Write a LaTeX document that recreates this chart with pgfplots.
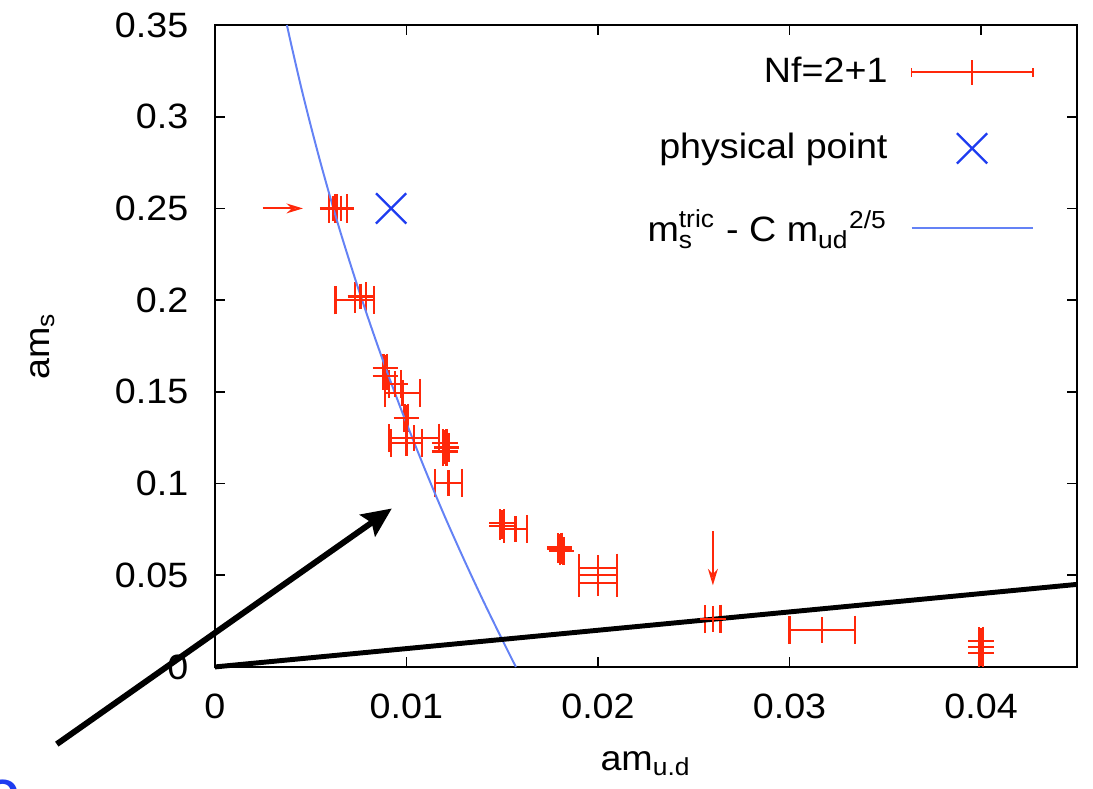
\documentclass[border=0pt]{standalone}
\usepackage{fontspec}
\setmainfont{Liberation Sans}[FakeStretch=1.07]
\usepackage{pgfplots}
\usepackage{pgfplotstable}
\pgfplotsset{compat=1.18}
\usetikzlibrary{arrows.meta}
\definecolor{ptred}{RGB}{255,40,10}
\definecolor{ptblue}{RGB}{30,60,240}
\definecolor{curveblue}{RGB}{100,130,245}

\pgfplotstableread{
x y ex
0.00615 0.25 0.0002
0.0066 0.25 0.0003
0.0073 0.2 0.001
0.0076 0.202 0.0003
0.0089 0.163 0.0001
0.0089 0.1587 0.0001
0.0094 0.1543 0.0003
0.0098 0.1494 0.0009
0.0100 0.1358 0.0001
0.0104 0.1249 0.0013
0.0100 0.1221 0.0008
0.0120 0.1221 0.0001
0.0121 0.1196 0.0001
0.0120 0.1174 0.0001
0.0122 0.1003 0.0007
0.0150 0.0785 0.0001
0.0150 0.0770 0.0001
0.0157 0.0752 0.0006
0.0180 0.0655 0.0001
0.0180 0.0643 0.0001
0.0181 0.0632 0.0001
0.0200 0.0540 0.001
0.0200 0.0502 0.001
0.0200 0.0458 0.001
0.0260 0.0262 0.0004
0.0317 0.0202 0.0017
0.0400 0.0142 0.0001
0.0400 0.0109 0.0001
0.0400 0.0076 0.0001
}\nfdata

\begin{document}
\fontsize{10.7}{13}\selectfont
\begin{tikzpicture}
\useasboundingbox (-65.3pt,-36.8pt) rectangle (266.9pt,202.7pt);
\begin{axis}[
  at={(0pt,0pt)}, anchor=south west,
  width=262pt, height=195.1pt, scale only axis,
  xmin=0, xmax=0.045, ymin=0, ymax=0.35,
  scaled x ticks=false, scaled y ticks=false,
  xtick={0,0.01,0.02,0.03,0.04},
  xticklabels={0,0.01,0.02,0.03,0.04},
  ytick={0,0.05,0.1,0.15,0.2,0.25,0.3,0.35},
  yticklabels={0,0.05,0.1,0.15,0.2,0.25,0.3,0.35},
  tick align=inside, major tick length=3pt,
  tick style={black, line width=0.5pt},
  axis line style={line width=0.6pt},
  xticklabel style={yshift=-4.3pt},
  yticklabel style={xshift=-4.3pt},
  clip=false,
  xlabel={am\textsubscript{u.d}},
  ylabel={am\textsubscript{s}},
  every axis x label/.style={at={(axis description cs:0.5,-0.151)}, anchor=center},
  every axis y label/.style={at={(axis description cs:-0.2000,0.5)}, anchor=center, rotate=90},
  legend plot pos=right,
  legend cell align=right,
  legend style={draw=none, fill=none, at={(axis description cs:0.962,0.972)}, anchor=north east,
    row sep=9.8pt, font=\fontsize{10.7}{13}\selectfont,
    /tikz/every odd column/.append style={column sep=5pt}},
]
\addplot[ptred, only marks, mark=+, mark size=3.9pt, line width=0.7pt,
  error bars/.cd, x dir=both, x explicit,
  error bar style={ptred, line width=0.7pt},
  error mark options={ptred, mark size=4.3pt, line width=0.7pt, rotate=90},
  /pgfplots/legend image code/.code={
    \draw[ptred, line width=0.55pt] (0pt,0pt) -- (36.8pt,0pt);
    \draw[ptred, line width=0.55pt] (0pt,-1.4pt) -- (0pt,1.4pt);
    \draw[ptred, line width=0.55pt] (36.8pt,-1.4pt) -- (36.8pt,1.4pt);
    \draw[ptred, line width=0.55pt] (18.4pt,-3.8pt) -- (18.4pt,3.8pt) (14.6pt,0pt) -- (22.2pt,0pt);
  }]
  table[x=x, y=y, x error=ex] {\nfdata};
\addlegendentry{Nf=2+1}

\addplot[ptblue, only marks, mark=x, mark size=6.5pt, line width=0.7pt,
  legend image code/.code={
    \draw[ptblue, line width=0.7pt] (13.8pt,-4.6pt) -- (23pt,4.6pt) (13.8pt,4.6pt) -- (23pt,-4.6pt);
  }]
  coordinates {(0.0092,0.25)};
\addlegendentry{physical point}

\addplot[curveblue, line width=0.6pt, smooth,
  legend image code/.code={
    \draw[curveblue, line width=0.6pt] (0pt,0pt) -- (36.8pt,0pt);
  }]
  coordinates {(0.003762,0.35) (0.004,0.3388) (0.0045,0.3163) (0.005,0.2954) (0.0055,0.2756)
  (0.006,0.2569) (0.0065,0.2390) (0.007,0.2222) (0.0075,0.2059) (0.008,0.1903) (0.0085,0.1752)
  (0.009,0.1606) (0.0095,0.1466) (0.010,0.1330) (0.011,0.1069) (0.012,0.0821) (0.013,0.0587)
  (0.014,0.0363) (0.015,0.0149) (0.015715,0)};
\addlegendentry{m\makebox[0pt][l]{\raisebox{-0.5pt}{\textsubscript{s}}}\raisebox{0.5pt}{\textsuperscript{tric}} - C m\raisebox{-0.5pt}{\textsubscript{ud}}\textsuperscript{2/5}}

\addplot[black, line width=1.5pt, forget plot] coordinates {(0,0) (0.045,0.045)};

\draw[ptred, line width=0.6pt, -{Stealth[length=5pt,width=3pt,open]}] (axis cs:0.0025,0.25) -- (axis cs:0.0046,0.25);
\draw[ptred, line width=0.6pt, -{Stealth[length=5pt,width=3pt,open]}] (axis cs:0.026,0.074) -- (axis cs:0.026,0.0445);
\draw[black, line width=1.8pt, -{Stealth[length=9pt,width=8pt,inset=1.5pt]}] (axis cs:-0.00825,-0.0421) -- (axis cs:0.00924,0.0864);
\end{axis}
\node[anchor=north, inner sep=0pt, text=ptblue, font=\fontsize{12}{14}\selectfont\bfseries] at (-64.4pt,-34.0pt) {O};
\end{tikzpicture}
\end{document}
